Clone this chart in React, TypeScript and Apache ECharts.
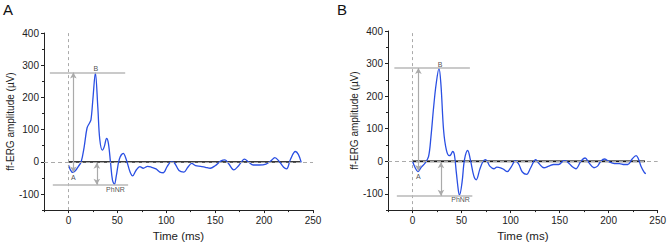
import React, { useEffect, useRef } from "react";
import * as echarts from "echarts";

// Panel A waveform
const timeA = [0, 2, 4.4, 7, 10, 13, 16, 19, 21.4, 23, 25, 27.5, 30, 32, 34.7, 36.7, 39, 40.8, 43, 45, 47, 49, 52, 56, 59, 63, 65.6, 69, 73, 76.5, 81, 85, 89.5, 93.5, 97, 101, 105, 108, 113, 118, 122, 126, 130, 135, 140, 145, 150, 156, 160, 164, 169, 174, 180, 184, 189, 195, 202, 207, 211, 215, 220, 223, 227, 232, 235, 238];
const ampA = [-10, -25, -33, -28, -15, 0, 45, 105, 120, 130, 195, 276, 170, 70, 36, 48, 73, 58, -2, -57, -70, -42, 8, 26, 8, -32, -44, -27, -15, -20, -14, -17, -22, -32, -34, -14, 0, -2, -27, -32, -17, -5, -12, -14, -17, -20, -12, 3, 6, -7, -25, -12, 8, 0, -10, -10, -7, 3, 13, 3, -17, -22, 8, 32, 23, -2];

// Panel B waveform
const timeB = [0, 2.7, 5.5, 8.5, 13, 16.4, 18.8, 21.5, 24, 27, 29, 31.7, 34.5, 37.5, 39, 41, 42.7, 44.7, 47, 48, 50.5, 53, 56.3, 59, 62.5, 65, 68.6, 72, 74.7, 78.8, 83, 86, 89.8, 93, 96.6, 100.7, 105, 108.5, 112, 116.4, 120.5, 125.6, 129, 134, 139, 144, 149, 154.6, 158, 163, 166.6, 171.7, 176, 180, 185, 188.7, 192, 196, 200.7, 205.8, 211, 216, 219.5, 224, 228, 230, 233, 236.5, 238];
const ampB = [0, -20, -32, -20, -5, 15, 75, 165, 235, 285, 235, 95, 35, 17, 20, 30, 20, -35, -95, -103, -65, 5, 33, 5, -45, -57, -25, 0, 5, -15, -23, -18, -20, -25, -32, -17, 2, -10, -33, -40, -20, 5, -7, -20, -15, -10, -10, 2, -2, -17, -23, 0, 10, -5, -20, -15, 0, 7, -2, -7, -7, -10, -10, 7, 17, 10, -15, -35, -38];

// Baseline (black) segment
const baseTimes = [0, 237];
const baseVals = [0, 0];

// Annotation levels
const annotA = { b: 277, bFrom: -19, bTo: 58, ax: 5, aMin: -33, phnr: -71, pFrom: -16, pTo: 61, px: 29, pTop: -3 };
const annotB = { b: 286, bFrom: -18.5, bTo: 58.5, ax: 6, aMin: -30, phnr: -106, pFrom: -16, pTo: 61, px: 29, pTop: -3 };

// Peak labels: [name, t, v]
const labelsA: [string, number, number][] = [["B", 28, 290], ["A", 5, -50], ["PhNR", 48, -86]];
const labelsB: [string, number, number][] = [["B", 28, 298], ["A", 6, -46], ["PhNR", 49, -118]];

const panelNames = ["A", "B"];
const xRange = [-25, 250];
const yRange = [-150, 400];
const xMajor = [0, 50, 100, 150, 200, 250];
const xMinor = [-25, 25, 75, 125, 175, 225];
const yMajor = [-100, 0, 100, 200, 300, 400];
const yMinor = [-150, -50, 50, 150, 250, 350];

const FONT = "Liberation Sans, Arial, sans-serif";
const INK = "#222";

function zip(t: number[], v: number[]) {
  return t.map((x, i) => [x, v[i]]);
}

export default function App() {
  const ref = useRef<HTMLDivElement>(null);
  useEffect(() => {
    if (!ref.current) return;
    const chart = echarts.init(ref.current, undefined, { renderer: "svg" });
    const grids = [
      { left: 44, top: 33, width: 269, height: 183 },
      { left: 388, top: 31, width: 270, height: 184 },
    ];
    const xAxes: any[] = [];
    const yAxes: any[] = [];
    for (let i = 0; i < 2; i++) {
      xAxes.push({
        type: "value",
        gridIndex: i,
        position: "bottom",
        min: xRange[0],
        max: xRange[1],
        name: "Time (ms)",
        nameLocation: "middle",
        nameGap: 18,
        nameTextStyle: { fontFamily: FONT, fontSize: 11.5, color: INK },
        axisLine: { show: true, onZero: false, lineStyle: { color: INK, width: 1 } },
        axisTick: { show: true, length: 3, customValues: xMajor, lineStyle: { color: INK } },
        axisLabel: { fontFamily: FONT, fontSize: 10, color: INK, margin: 5, customValues: xMajor },
        splitLine: { show: false },
      });
      yAxes.push({
        type: "value",
        gridIndex: i,
        position: "left",
        min: yRange[0],
        max: yRange[1],
        name: "ff-ERG amplitude (µV)",
        nameLocation: "middle",
        nameGap: 28,
        nameTextStyle: { fontFamily: FONT, fontSize: 10, color: INK },
        axisLine: { show: true, onZero: false, lineStyle: { color: INK, width: 1 } },
        axisTick: { show: true, length: 3, customValues: yMajor, lineStyle: { color: INK } },
        axisLabel: { fontFamily: FONT, fontSize: 10, color: INK, margin: 5, customValues: yMajor },
        splitLine: { show: false },
      });
    }
    for (let i = 0; i < 2; i++) {
      xAxes.push({
        type: "value",
        gridIndex: i,
        position: "bottom",
        offset: 0,
        min: xRange[0],
        max: xRange[1],
        axisLine: { show: false, onZero: false },
        axisTick: { show: true, length: 2, customValues: xMinor, lineStyle: { color: INK } },
        axisLabel: { show: false },
        splitLine: { show: false },
      });
      yAxes.push({
        type: "value",
        gridIndex: i,
        position: "left",
        offset: 0,
        min: yRange[0],
        max: yRange[1],
        axisLine: { show: false, onZero: false },
        axisTick: { show: true, length: 2, customValues: yMinor, lineStyle: { color: INK } },
        axisLabel: { show: false },
        splitLine: { show: false },
      });
    }

    const series: any[] = [];
    const waves = [zip(timeA, ampA), zip(timeB, ampB)];
    const annots = [annotA, annotB];
    const labels = [labelsA, labelsB];
    const grayLine = { color: "#b8b8b8", width: 1.6, type: "solid" };
    for (let i = 0; i < 2; i++) {
      const an = annots[i];
      series.push({
        type: "line",
        xAxisIndex: i,
        yAxisIndex: i,
        data: [],
        silent: true,
        markLine: {
          silent: true,
          symbol: ["none", "none"],
          label: { show: false },
          animation: false,
          data: [
            { xAxis: 0, lineStyle: { color: "#aaa", width: 1, type: [3, 3] } },
            { yAxis: 0, lineStyle: { color: "#aaa", width: 1, type: [4, 3] } },
            [
              { coord: [an.bFrom, an.b], lineStyle: grayLine },
              { coord: [an.bTo, an.b] },
            ],
            [
              { coord: [an.pFrom, an.phnr], lineStyle: grayLine },
              { coord: [an.pTo, an.phnr] },
            ],
          ],
        },
      });
      series.push({
        type: "line",
        xAxisIndex: i,
        yAxisIndex: i,
        data: [],
        silent: true,
        markLine: {
          silent: true,
          symbol: ["arrow", "arrow"],
          symbolSize: [5, 6],
          label: { show: false },
          animation: false,
          lineStyle: { color: "#aaa", width: 1.2, type: "solid" },
          data: [
            [{ coord: [an.ax, an.aMin] }, { coord: [an.ax, an.b] }],
            [{ coord: [an.px, an.pTop] }, { coord: [an.px, an.phnr] }],
          ],
        },
      });
      series.push({
        type: "line",
        xAxisIndex: i,
        yAxisIndex: i,
        data: zip(baseTimes, baseVals.map((v) => v - 1)),
        symbol: "none",
        lineStyle: { color: "#9a9a9a", width: 2 },
        silent: true,
      });
      series.push({
        type: "line",
        xAxisIndex: i,
        yAxisIndex: i,
        data: zip(baseTimes, baseVals),
        symbol: "none",
        lineStyle: { color: "#1a1a1a", width: 1.3 },
        silent: true,
      });
      series.push({
        type: "line",
        xAxisIndex: i,
        yAxisIndex: i,
        data: waves[i],
        symbol: "none",
        smooth: 0.35,
        lineStyle: { color: "#2a4fe3", width: 1.3 },
        silent: true,
      });
      series.push({
        type: "scatter",
        xAxisIndex: i,
        yAxisIndex: i,
        symbolSize: 0,
        silent: true,
        itemStyle: { color: "#222" },
        data: labels[i].map((l) => ({ name: l[0], value: [l[1], l[2]] })),
        label: {
          show: true,
          position: "inside",
          formatter: (p: any) => p.name,
          fontFamily: FONT,
          fontSize: 7,
          color: "#222",
          textBorderWidth: 0,
        },
      });
    }

    chart.setOption({
      animation: false,
      backgroundColor: "#fff",
      grid: grids,
      xAxis: xAxes,
      yAxis: yAxes,
      series,
      graphic: [
        { type: "text", left: 3, top: 2, style: { text: panelNames[0], fontFamily: FONT, fontSize: 15, fill: "#111" } },
        { type: "text", left: 337, top: 2, style: { text: panelNames[1], fontFamily: FONT, fontSize: 15, fill: "#111" } },
      ],
    });
    return () => chart.dispose();
  }, []);
  return <div ref={ref} style={{ width: 669, height: 247, position: "absolute", left: 0, top: 0 }} />;
}
